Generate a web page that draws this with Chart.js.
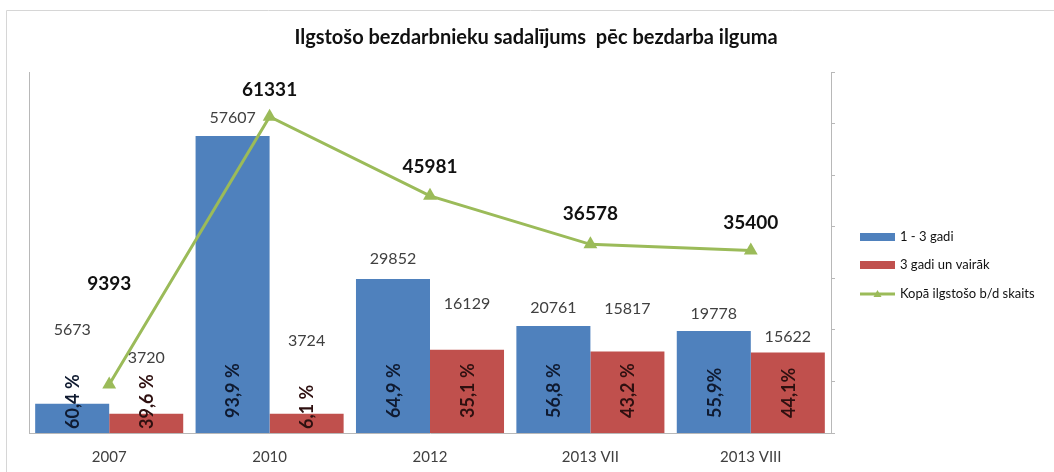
<!DOCTYPE html>
<html><head><meta charset="utf-8">
<script src="https://cdn.jsdelivr.net/npm/chart.js@4"></script>
<style>html,body{margin:0;padding:0;background:#fff}#wrap{width:1054px;height:472px;position:relative}</style>
</head><body><div id="wrap"><canvas id="c" width="1054" height="472"></canvas></div>
<script>
const categories = ['2007', '2010', '2012', '2013 VII', '2013 VIII'];
const shortTerm = [5673, 57607, 29852, 20761, 19778];      // 1 - 3 gadi
const longTerm = [3720, 3724, 16129, 15817, 15622];        // 3 gadi un vairāk
const totals = [9393, 61331, 45981, 36578, 35400];         // Kopā
const shortPct = ['60,4 %', '93,9 %', '64,9 %', '56,8 %', '55,9%'];
const longPct = ['39,6 %', '6,1 %', '35,1 %', '43,2 %', '44,1%'];
const seriesNames = ['1 - 3 gadi', '3 gadi un vairāk', 'Kopā ilgstošo b/d skaits'];
const titleText = 'Ilgstošo bezdarbnieku sadalījums  pēc bezdarba ilguma';

// label placement (px above the mark), as laid out in the original
const shortLabelLift = [74, 18, 20, 18, 17];
const longLabelLift = [56, 73, 46, 43, 16];
const totalLabelLift = [101, 27, 29, 30, 28];

const BLUE = '#4F81BD', RED = '#C0504D', GREEN = '#9BBB59';
const FONT = 'Lato';

const decor = {
  id: 'decor',
  beforeDraw(chart) {
    const ctx = chart.ctx;
    ctx.save();
    ctx.strokeStyle = '#d6d6d6';
    ctx.lineWidth = 1;
    ctx.beginPath();
    ctx.moveTo(6.5, 472); ctx.lineTo(6.5, 10.5); ctx.lineTo(1054, 10.5);
    ctx.stroke();
    ctx.restore();
  },
  afterDatasetsDraw(chart) {
    const ctx = chart.ctx;
    const barLabels = (dsIndex, lifts, pcts, pctColor) => {
      const meta = chart.getDatasetMeta(dsIndex);
      const data = chart.data.datasets[dsIndex].data;
      meta.data.forEach((bar, i) => {
        ctx.save();
        ctx.font = '16px ' + FONT;
        ctx.fillStyle = '#404040';
        ctx.textAlign = 'center';
        ctx.textBaseline = 'middle';
        ctx.fillText(String(data[i]), bar.x, bar.y - lifts[i]);
        ctx.font = 'bold 18px ' + FONT;
        const w = ctx.measureText(pcts[i]).width;
        const h = bar.base - bar.y;
        const start = h >= w + 20 ? bar.base - 15 : bar.base - 4;
        ctx.translate(bar.x + 1, start);
        ctx.rotate(-Math.PI / 2);
        ctx.textAlign = 'left';
        ctx.fillStyle = pctColor;
        ctx.fillText(pcts[i], 0, 0);
        ctx.restore();
      });
    };
    barLabels(0, shortLabelLift, shortPct, '#0f1a30');
    barLabels(1, longLabelLift, longPct, '#2e1010');
    const lmeta = chart.getDatasetMeta(2);
    lmeta.data.forEach((pt, i) => {
      ctx.save();
      ctx.font = 'bold 19px ' + FONT;
      ctx.fillStyle = '#111';
      ctx.textAlign = 'center';
      ctx.textBaseline = 'middle';
      ctx.fillText(String(totals[i]), pt.x, pt.y - totalLabelLift[i]);
      ctx.restore();
    });
  },
  afterDraw(chart) {
    const ctx = chart.ctx;
    const x0 = 860, ys = [237, 265, 294];
    ctx.save();
    ctx.fillStyle = BLUE; ctx.fillRect(x0, ys[0] - 4, 35, 8);
    ctx.fillStyle = RED; ctx.fillRect(x0, ys[1] - 4, 35, 8);
    ctx.strokeStyle = GREEN; ctx.lineWidth = 3;
    ctx.beginPath(); ctx.moveTo(x0, ys[2]); ctx.lineTo(x0 + 35, ys[2]); ctx.stroke();
    ctx.fillStyle = GREEN;
    ctx.beginPath();
    ctx.moveTo(x0 + 17.5, ys[2] - 4); ctx.lineTo(x0 + 21.5, ys[2] + 3); ctx.lineTo(x0 + 13.5, ys[2] + 3);
    ctx.closePath(); ctx.fill();
    ctx.font = '13px ' + FONT;
    ctx.fillStyle = '#111';
    ctx.textAlign = 'left';
    ctx.textBaseline = 'middle';
    seriesNames.forEach((n, i) => ctx.fillText(n, x0 + 40, ys[i]));
    ctx.restore();
  }
};

new Chart(document.getElementById('c'), {
  type: 'bar',
  data: {
    labels: categories,
    datasets: [
      { type: 'bar', label: seriesNames[0], data: shortTerm, backgroundColor: BLUE, borderWidth: 0, order: 1,
        categoryPercentage: 0.923, barPercentage: 1.0 },
      { type: 'bar', label: seriesNames[1], data: longTerm, backgroundColor: RED, borderWidth: 0, order: 1,
        categoryPercentage: 0.923, barPercentage: 1.0 },
      { type: 'line', label: seriesNames[2], data: totals, borderColor: GREEN, backgroundColor: GREEN,
        borderWidth: 3, tension: 0, fill: false, order: 0,
        pointStyle: 'triangle', pointRadius: 8, pointBackgroundColor: GREEN, pointBorderColor: GREEN, pointBorderWidth: 0 }
    ]
  },
  options: {
    responsive: false,
    animation: false,
    devicePixelRatio: 1,
    layout: { padding: { left: 18, right: 0, top: 0, bottom: 0 } },
    plugins: {
      legend: { display: false },
      tooltip: { enabled: false },
      title: {
        display: true, text: titleText, color: '#111',
        font: { family: FONT, size: 20, weight: 'bold' },
        padding: { top: 26, bottom: 22 }
      }
    },
    scales: {
      x: {
        grid: { display: false, drawTicks: false },
        border: { display: true, color: '#b8b8b8', width: 1 },
        ticks: { color: '#404040', font: { family: FONT, size: 15 }, padding: 15, maxRotation: 0 },
        afterFit(s) { s.height = 39; }
      },
      y: {
        min: 0, max: 70000,
        grid: { display: false, drawTicks: false },
        border: { display: true, color: '#b8b8b8', width: 1 },
        ticks: { display: false, stepSize: 10000 },
        afterFit(s) { s.width = 11; }
      },
      y2: {
        position: 'right', min: 0, max: 70000,
        grid: { display: true, drawOnChartArea: false, drawTicks: true, tickLength: 4, color: '#b8b8b8' },
        border: { display: true, color: '#b8b8b8', width: 1 },
        ticks: { display: false, stepSize: 10000 },
        afterFit(s) { s.width = 223; }
      }
    }
  },
  plugins: [decor]
});
</script>
</body></html>
